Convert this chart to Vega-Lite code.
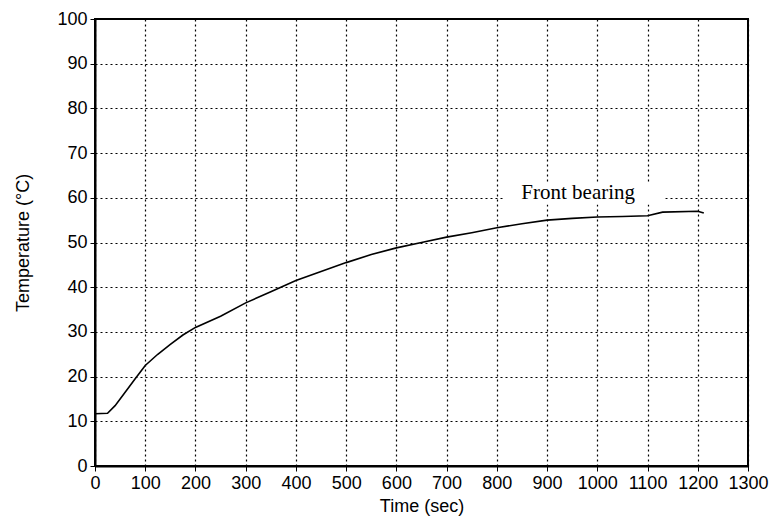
{
  "$schema": "https://vega.github.io/schema/vega-lite/v6.json",
  "width": 653,
  "height": 447,
  "autosize": "none",
  "padding": {"left": 95, "top": 19, "right": 27, "bottom": 61},
  "background": "white",
  "config": {
    "view": {"stroke": "black", "strokeWidth": 2},
    "font": "Liberation Sans",
    "axis": {
      "labelFont": "Liberation Sans",
      "titleFont": "Liberation Sans",
      "labelFontSize": 18,
      "titleFontSize": 18,
      "titleFontWeight": "normal",
      "labelColor": "black",
      "titleColor": "black",
      "domainColor": "black",
      "domainWidth": 2,
      "tickColor": "black",
      "tickSize": 5,
      "gridColor": "black",
      "gridDash": [2, 3],
      "gridWidth": 1.2,
      "gridOpacity": 1
    }
  },
  "data": {
    "values": [
      {"t": 0, "temp": 11.7},
      {"t": 25, "temp": 11.8},
      {"t": 40, "temp": 13.5},
      {"t": 60, "temp": 16.5},
      {"t": 80, "temp": 19.5},
      {"t": 100, "temp": 22.5},
      {"t": 125, "temp": 25},
      {"t": 150, "temp": 27.2},
      {"t": 175, "temp": 29.3},
      {"t": 200, "temp": 31},
      {"t": 250, "temp": 33.5},
      {"t": 300, "temp": 36.5},
      {"t": 350, "temp": 39},
      {"t": 400, "temp": 41.5},
      {"t": 450, "temp": 43.5},
      {"t": 500, "temp": 45.5},
      {"t": 550, "temp": 47.3},
      {"t": 600, "temp": 48.8},
      {"t": 650, "temp": 50},
      {"t": 700, "temp": 51.2},
      {"t": 750, "temp": 52.2},
      {"t": 800, "temp": 53.3},
      {"t": 850, "temp": 54.2},
      {"t": 900, "temp": 55},
      {"t": 950, "temp": 55.4},
      {"t": 1000, "temp": 55.7},
      {"t": 1050, "temp": 55.8},
      {"t": 1100, "temp": 56},
      {"t": 1130, "temp": 56.8},
      {"t": 1200, "temp": 57},
      {"t": 1212, "temp": 56.6}
    ]
  },
  "layer": [
    {
      "mark": {"type": "line", "color": "black", "strokeWidth": 1.6},
      "encoding": {
        "x": {
          "field": "t", "type": "quantitative",
          "scale": {"domain": [0, 1300], "nice": false},
          "axis": {"values": [0,100,200,300,400,500,600,700,800,900,1000,1100,1200,1300], "format": "d", "title": "Time  (sec)", "titlePadding": 5, "labelPadding": 3, "labelFlush": false, "labelOverlap": false}
        },
        "y": {
          "field": "temp", "type": "quantitative",
          "scale": {"domain": [0, 100], "nice": false},
          "axis": {"values": [0,10,20,30,40,50,60,70,80,90,100], "format": "d", "title": "Temperature  (°C)", "titlePadding": 24, "labelPadding": 3, "labelFlush": false}
        }
      }
    },
    {
      "data": {"values": [{"x1": 815, "x2": 1135, "y1": 58.5, "y2": 63.5}]},
      "mark": {"type": "rect", "color": "white"},
      "encoding": {
        "x": {"field": "x1", "type": "quantitative"},
        "x2": {"field": "x2"},
        "y": {"field": "y1", "type": "quantitative"},
        "y2": {"field": "y2"}
      }
    },
    {
      "data": {"values": [{"x": 962, "y": 61, "label": "Front bearing"}]},
      "mark": {"type": "text", "font": "Liberation Serif", "fontSize": 21, "color": "black", "align": "center", "baseline": "middle"},
      "encoding": {
        "x": {"field": "x", "type": "quantitative"},
        "y": {"field": "y", "type": "quantitative"},
        "text": {"field": "label"}
      }
    }
  ]
}
